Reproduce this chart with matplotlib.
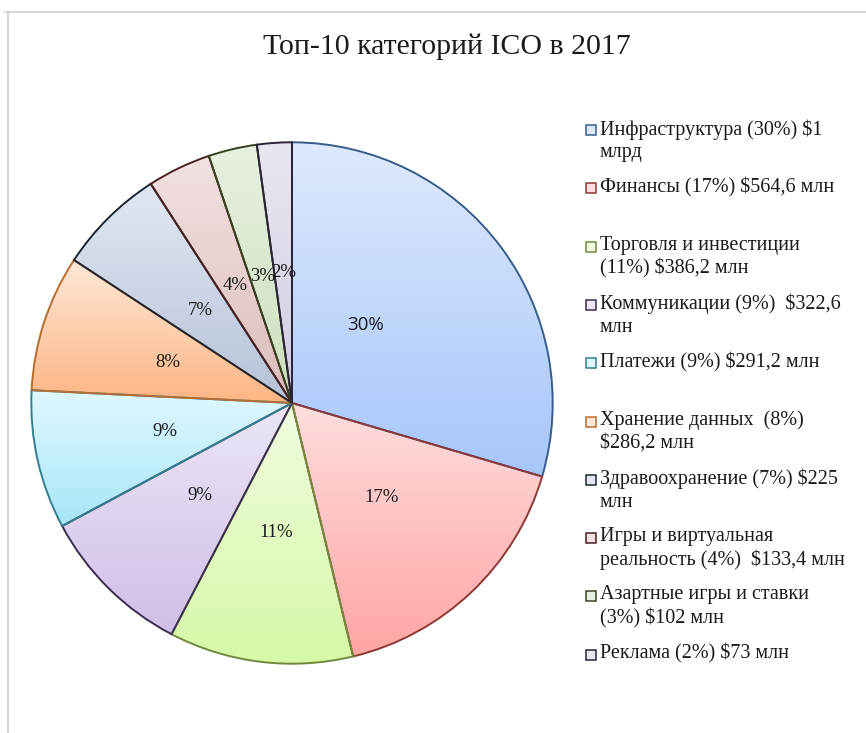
import numpy as np
import matplotlib
matplotlib.use("Agg")
import matplotlib.pyplot as plt
from matplotlib.patches import Rectangle, Wedge
from matplotlib.lines import Line2D

# ---- data -------------------------------------------------------------
categories = ["Инфраструктура", "Финансы", "Торговля и инвестиции", "Коммуникации",
              "Платежи", "Хранение данных", "Здравоохранение",
              "Игры и виртуальная реальность", "Азартные игры и ставки", "Реклама"]
amounts_mln = [1000, 564.6, 386.2, 322.6, 291.2, 286.2, 225, 133.4, 102, 73]
pct_labels = ["30%", "17%", "11%", "9%", "9%", "8%", "7%", "4%", "3%", "2%"]
legend_labels = [
    "Инфраструктура (30%) $1\nмлрд",
    "Финансы (17%) $564,6 млн",
    "Торговля и инвестиции\n(11%) $386,2 млн",
    "Коммуникации (9%)  $322,6\nмлн",
    "Платежи (9%) $291,2 млн",
    "Хранение данных  (8%)\n$286,2 млн",
    "Здравоохранение (7%) $225\nмлн",
    "Игры и виртуальная\nреальность (4%)  $133,4 млн",
    "Азартные игры и ставки\n(3%) $102 млн",
    "Реклама (2%) $73 млн",
]
title = "Топ-10 категорий ICO в 2017"

# ---- styling ----------------------------------------------------------
grad_top = ["#dee9fd", "#ffdede", "#f0fce0", "#ece6f6", "#e0f8ff",
            "#ffe8d8", "#e2e8f2", "#f2e2e2", "#e8f0e0", "#eae6f0"]
grad_bot = ["#a6c6fa", "#ffa4a4", "#d6f8a6", "#cfbfe8", "#a6e6f8",
            "#fcb584", "#b6c2d8", "#dcbcbc", "#cedebe", "#d2cce2"]
edge_cols = ["#385d8a", "#8c3836", "#71893f", "#3b2d4f", "#357d91",
             "#b66d31", "#1c2533", "#4a2222", "#36421f", "#2b2238"]

serif = ["Liberation Serif", "DejaVu Serif"]
sans = ["Open Sans", "DejaVu Sans"]

W, H, DPI = 866, 733, 100
fig = plt.figure(figsize=(W / DPI, H / DPI), dpi=DPI)
fig.patch.set_facecolor("white")

# chart frame (top and left edges)
fig.add_artist(Line2D([5 / W, 1.0], [1 - 12 / H, 1 - 12 / H], color="#cfcfcf", lw=1.2))
fig.add_artist(Line2D([8 / W, 8 / W], [0.0, 1 - 12 / H], color="#cfcfcf", lw=1.2))

fig.text(447 / W, 1 - 47 / H, title, ha="center", va="center",
         fontsize=21.5, family=serif, color="#1a1a1a")

# pie axes: centre (292, 403) px, radius 262 px
cx, cy, R = 292, 403, 262
ax = fig.add_axes([(cx - R) / W, (H - cy - R) / H, 2 * R / W, 2 * R / H])
ax.axis("off")

wedges, _ = ax.pie(amounts_mln, startangle=90, counterclock=False, radius=1.0,
                   wedgeprops=dict(linewidth=1.4))

for i, w in enumerate(wedges):
    w.set_facecolor("none")
    w.set_edgecolor(edge_cols[i])
    w.set_zorder(3)
    # vertical gradient fill clipped to the wedge
    pts = w.get_patch_transform().transform(w.get_path().vertices)
    x0, x1 = pts[:, 0].min(), pts[:, 0].max()
    y0, y1 = pts[:, 1].min(), pts[:, 1].max()
    c_top = np.array(matplotlib.colors.to_rgb(grad_top[i]))
    c_bot = np.array(matplotlib.colors.to_rgb(grad_bot[i]))
    t = np.linspace(0, 1, 256)[:, None]
    img = (c_top[None, :] * (1 - t) + c_bot[None, :] * t)[:, None, :]
    im = ax.imshow(img, extent=(x0, x1, y0, y1), origin="upper",
                   aspect="auto", interpolation="bilinear", zorder=2)
    clip = Wedge(w.center, w.r, w.theta1, w.theta2, transform=ax.transData)
    im.set_clip_path(clip)

ax.set_xlim(-1.005, 1.005)
ax.set_ylim(-1.005, 1.005)
ax.set_aspect("equal")

# percentage labels along each slice bisector (largest slice label sits nearer the top)
for i, w in enumerate(wedges):
    mid = (w.theta1 + w.theta2) / 2
    rr = 0.5
    fam = serif
    if i == 0:
        mid += 10
        rr = 0.41
        fam = sans
    ang = np.deg2rad(mid)
    ax.text(rr * np.cos(ang), rr * np.sin(ang), pct_labels[i], ha="center",
            va="center", fontsize=13.5, family=fam, color="#1a1a1a", zorder=5)

# legend
lx_box, lx_text = 586, 600
y_first, y_step = 130, 58.3
for i, lab in enumerate(legend_labels):
    yc = y_first + i * y_step
    fig.add_artist(Rectangle((lx_box / W, 1 - (yc + 5) / H), 10 / W, 10 / H,
                             transform=fig.transFigure,
                             facecolor=grad_top[i], edgecolor=edge_cols[i], lw=1.1))
    fig.text(lx_text / W, 1 - (yc - 11) / H, lab, ha="left", va="top",
             fontsize=14.5, family=serif, color="#1a1a1a", linespacing=1.24)

fig.savefig("out.png", dpi=DPI)
